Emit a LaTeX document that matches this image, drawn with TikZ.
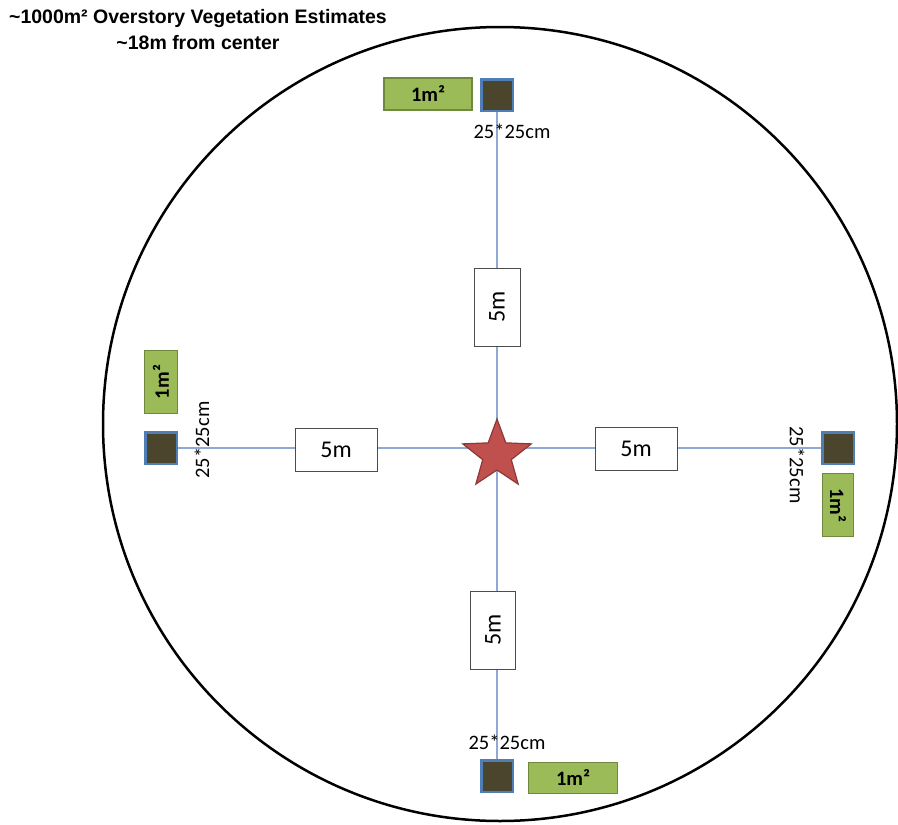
\documentclass[tikz,border=0pt]{standalone}
\usepackage{fontspec}
\setmainfont{Carlito}
\newfontfamily\titlefont{Liberation Sans}
\usetikzlibrary{shapes.geometric,backgrounds}

\definecolor{quadfill}{HTML}{4B452E}
\definecolor{quadline}{HTML}{4F7DB5}
\definecolor{grassfill}{HTML}{9BBB59}
\definecolor{grassline}{HTML}{71893F}
\definecolor{transect}{HTML}{8DA9D4}
\definecolor{starfill}{HTML}{C0504D}
\definecolor{starline}{HTML}{8C3836}

\tikzstyle{quad}=[rectangle,minimum size=31.5pt,line width=2.5pt,draw=quadline,fill=quadfill]
\tikzstyle{grass}=[rectangle,inner sep=0pt,line width=1.6pt,draw=grassline,fill=grassfill,font=\fontsize{20.5}{20.5}\selectfont\bfseries]
\tikzstyle{dist}=[rectangle,inner sep=0pt,minimum width=82pt,minimum height=43pt,draw=black!70,fill=white,line width=0.8pt,font=\fontsize{24}{24}\selectfont]
\tikzstyle{sizelabel}=[inner sep=0pt,font=\fontsize{20.5}{20.5}\selectfont]

\begin{document}
\begin{tikzpicture}[x=1pt,y=-1pt]
  \useasboundingbox (0,0) rectangle (898,825);
  % plot boundary
  \draw[line width=2.5pt] (500,424) circle[radius=397pt];
  \node (title) [align=center,inner sep=0pt,font=\titlefont\bfseries\fontsize{19.5}{26}\selectfont] at (198,30)
    {\textasciitilde1000m² Overstory Vegetation Estimates\\\textasciitilde18m from center};

  % quadrats
  \node (quadN) [quad] at (497,95) {};
  \node (quadS) [quad] at (497,776) {};
  \node (quadW) [quad] at (161,448) {};
  \node (quadE) [quad] at (838,448) {};

  \node (grassN) [grass,minimum width=88pt,minimum height=32pt] at (428,94) {1m²};
  \node (grassS) [grass,minimum width=89pt,minimum height=31pt] at (573,778) {1m²};
  \node (grassW) [grass,minimum width=63pt,minimum height=33pt,rotate=90] at (161,382) {1m²};
  \node (grassE) [grass,minimum width=63pt,minimum height=31pt,rotate=-90] at (838,505) {1m²};

  \node (sizeN) [sizelabel] at (512,131) {25*25cm};
  \node (sizeS) [sizelabel] at (507,742) {25*25cm};
  \node (sizeW) [sizelabel,rotate=90] at (202,440) {25*25cm};
  \node (sizeE) [sizelabel,rotate=-90] at (797,465) {25*25cm};

  % distances
  \node (distN) [dist,minimum width=78pt,minimum height=46pt,rotate=90] at (497,307) {5m};
  \node (distS) [dist,minimum width=78pt,minimum height=45pt,rotate=90] at (493,630) {5m};
  \node (distW) [dist] at (336,450) {5m};
  \node (distE) [dist] at (636,449) {5m};

  \node (centre) [star,star points=5,star point ratio=2.4,minimum size=72pt,inner sep=0pt,
    fill=starfill,draw=starline,line width=1.2pt] at (497,455) {};

  \begin{pgfonlayer}{background}
    \path[draw=transect,line width=1.2pt]
    (quadW) edge (quadE)
    (quadN) edge (quadS);
  \end{pgfonlayer}
\end{tikzpicture}
\end{document}
